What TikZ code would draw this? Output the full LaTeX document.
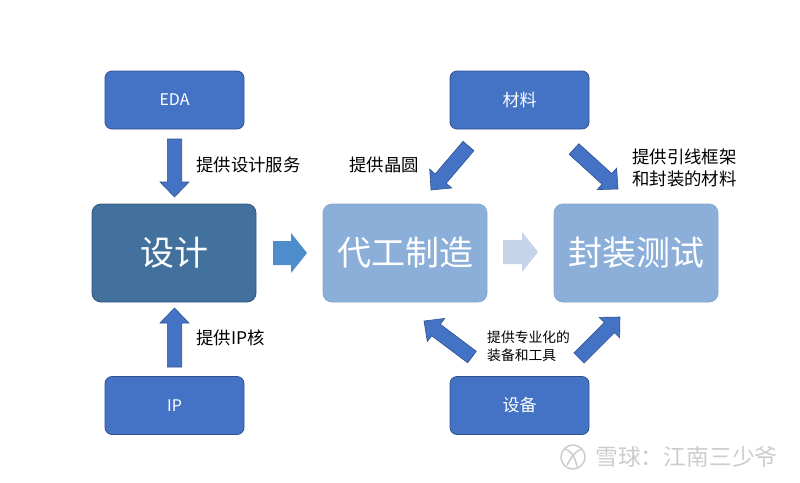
\documentclass[tikz,border=0pt]{standalone}
\usepackage{fontspec}
\setmainfont{Noto Sans CJK SC}
\usetikzlibrary{calc}
\definecolor{bluefill}{HTML}{4472C4}
\definecolor{blueline}{HTML}{2F528F}
\definecolor{designfill}{HTML}{41719C}
\definecolor{designline}{HTML}{30597F}
\definecolor{lightfill}{HTML}{8BAFD8}
\definecolor{lightline}{HTML}{86A8D0}
\definecolor{markgray}{HTML}{CCCCCC}
\tikzset{
	smallbox/.style={draw=blueline, fill=bluefill, rounded corners=7pt, line width=0.8pt, minimum width=139pt, minimum height=58pt, text=white, inner sep=0pt, font=\fontsize{16}{16}\selectfont},
	bigbox/.style={rounded corners=9pt, line width=0.8pt, minimum width=164pt, minimum height=98pt, text=white, inner sep=0pt, font=\fontsize{34}{34}\selectfont},
	label/.style={text=black, inner sep=0pt, align=left, font=\fontsize{17.4}{22}\selectfont},
	blockarrow/.style n args={3}{line width=0.6pt, to path={
		let \p1=($(\tikztotarget)-(\tikztostart)$), \n1={atan2(\y1,\x1)}, \n2={veclen(\x1,\y1)-#3} in
		($(\tikztostart)+(\n1+90:#1)$) -- ($(\tikztostart)+(\n1:\n2)+(\n1+90:#1)$) -- ($(\tikztostart)+(\n1:\n2)+(\n1+90:#2)$) -- (\tikztotarget)
		-- ($(\tikztostart)+(\n1:\n2)+(\n1-90:#2)$) -- ($(\tikztostart)+(\n1:\n2)+(\n1-90:#1)$) -- ($(\tikztostart)+(\n1-90:#1)$) -- cycle}},
	bluearrow/.style={blockarrow={7.2}{14.5}{15}, draw=blueline, fill=bluefill}
}
\begin{document}
\begin{tikzpicture}[x=1pt, y=1pt]
	\useasboundingbox (0,0) rectangle (800,-482);
	% top and bottom boxes
	\node[smallbox] (edaBox) at (174.5,-100) {EDA};
	\node[smallbox] (ipBox) at (174.5,-405.5) {IP};
	\node[smallbox] (materialBox) at (519.5,-100) {\fontsize{17}{17}\selectfont 材料};
	\node[smallbox] (deviceBox) at (519.5,-405.5) {\fontsize{17}{17}\selectfont 设备};
	% middle row
	\node[bigbox, draw=designline, fill=designfill] (designBox) at (174,-253) {\raisebox{2.5pt}{设计}};
	\node[bigbox, draw=lightline, fill=lightfill] (foundryBox) at (405,-253) {\raisebox{2.5pt}{代工制造}};
	\node[bigbox, draw=lightline, fill=lightfill] (packageBox) at (636,-253) {\raisebox{2.5pt}{封装测试}};
	% arrow ends
	\coordinate (edaOut) at (174.5,-139);
	\coordinate (designTop) at (174.5,-197);
	\coordinate (ipOut) at (174.5,-367);
	\coordinate (designBottom) at (174.5,-308);
	\coordinate (designOut) at (273,-253);
	\coordinate (foundryIn) at (307,-253);
	\coordinate (foundryOut) at (503,-252);
	\coordinate (packageIn) at (538,-252);
	\coordinate (materialLeft) at (468.5,-146);
	\coordinate (foundryTop) at (431,-190);
	\coordinate (materialRight) at (574,-149);
	\coordinate (packageTop) at (618,-189);
	\coordinate (deviceLeft) at (472,-357);
	\coordinate (foundryBottom) at (424,-321);
	\coordinate (deviceRight) at (579,-358);
	\coordinate (packageBottom) at (620,-317);
	\draw[bluearrow] (edaOut) to (designTop);
	\draw[bluearrow] (ipOut) to (designBottom);
	\draw[bluearrow] (materialLeft) to (foundryTop);
	\draw[bluearrow] (materialRight) to (packageTop);
	\draw[bluearrow] (deviceLeft) to (foundryBottom);
	\draw[bluearrow] (deviceRight) to (packageBottom);
	\fill[blockarrow={12}{20}{16}, fill={rgb,255:red,78;green,141;blue,204}] (designOut) to (foundryIn);
	\fill[blockarrow={12}{20}{16}, fill={rgb,255:red,198;green,212;blue,234}] (foundryOut) to (packageIn);
	% labels
	\node[label, anchor=west] (designLabel) at (196,-165) {提供设计服务};
	\node[label, anchor=west] (waferLabel) at (349,-165) {提供晶圆};
	\node[label, anchor=west] (ipLabel) at (196,-338) {提供IP核};
	\node[label, anchor=west] (frameLabel) at (632,-168) {提供引线框架\\和封装的材料};
	\node[label, anchor=west, font=\fontsize{13.8}{17.5}\selectfont] (toolLabel) at (487,-346.5) {提供专业化的\\装备和工具};
	% watermark
	\draw[markgray, line width=1.5pt] (573,-457) circle (12);
	\draw[markgray, line width=1.5pt] (565,-449) .. controls (572,-451) and (576,-460) .. (577,-467);
	\draw[markgray, line width=1.5pt] (582,-449) .. controls (574,-451) and (570,-460) .. (567,-465);
	\node[text=markgray, inner sep=0pt, anchor=west, font=\fontsize{22.8}{23}\selectfont] (markLabel) at (595,-457) {雪球：江南三少爷};
\end{tikzpicture}
\end{document}
